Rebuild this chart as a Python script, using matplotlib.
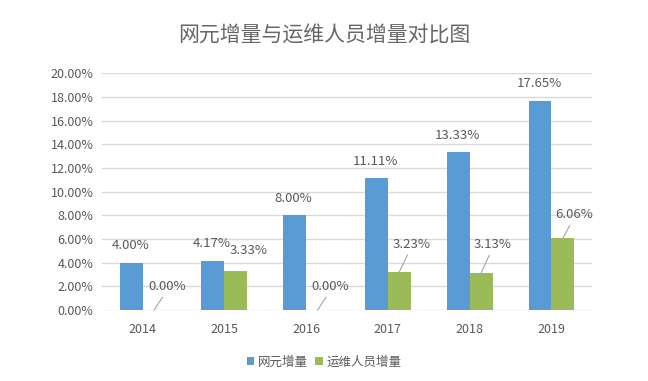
import matplotlib.pyplot as plt
import numpy as np

plt.rcParams['font.family'] = ['Noto Sans CJK SC', 'DejaVu Sans']

# Data
years = ['2014', '2015', '2016', '2017', '2018', '2019']
wangyuan = [4.00, 4.17, 8.00, 11.11, 13.33, 17.65]   # 网元增量 (%)
yunwei = [0.00, 3.33, 0.00, 3.23, 3.13, 6.06]        # 运维人员增量 (%)

title = '网元增量与运维人员增量对比图'
legend_labels = ['网元增量', '运维人员增量']

# label offsets (pixels) for green labels, and whether a leader line is drawn
green_offsets = [(13, 17), (13, 14), (13, 17), (12, 21), (12, 22), (11, 17)]
green_lines = [True, False, True, True, True, True]

blue = '#5B9BD5'
green = '#9BBB59'
text_col = '#595959'
grid_col = '#D9D9D9'

fig = plt.figure(figsize=(6.48, 3.81), dpi=100)
ax = fig.add_axes([0.157, 0.186, 0.757, 0.622])

x = np.arange(len(years))
w = 0.28
b1 = ax.bar(x - w / 2, wangyuan, w, color=blue, label=legend_labels[0], zorder=3)
b2 = ax.bar(x + w / 2, yunwei, w, color=green, label=legend_labels[1], zorder=3)

ax.set_ylim(0, 20)
ax.set_yticks(np.arange(0, 21, 2))
ax.set_yticklabels(['{:.2f}%'.format(v) for v in np.arange(0, 21, 2)])
ax.set_xlim(-0.5, len(years) - 0.5)
ax.set_xticks(x)
ax.set_xticklabels(years)

for s in ax.spines.values():
    s.set_visible(False)
ax.yaxis.grid(True, color=grid_col, linewidth=1, zorder=0)
ax.tick_params(axis='both', length=0, colors=text_col, labelsize=9)
ax.tick_params(axis='x', pad=9)
ax.tick_params(axis='y', pad=6)

for xi, v in zip(x, wangyuan):
    ax.annotate('{:.2f}%'.format(v), (xi - w / 2, v), xytext=(-1, 17),
                textcoords='offset pixels', ha='center', va='center',
                fontsize=9.5, color=text_col)

for xi, v, off, ln in zip(x, yunwei, green_offsets, green_lines):
    props = dict(arrowstyle='-', color='#A6A6A6', lw=0.8,
                 shrinkA=1, shrinkB=0, relpos=(0.45, 0.0)) if ln else None
    ax.annotate('{:.2f}%'.format(v), (xi + w / 2, v), xytext=off,
                textcoords='offset pixels', ha='center', va='bottom',
                fontsize=9.5, color=text_col, arrowprops=props)

fig.text(0.5, 1 - 36 / 381, title, ha='center', va='center', fontsize=15,
         color='#666666', fontweight='light')

leg = fig.legend(loc='center', bbox_to_anchor=(0.5, 0.05), ncol=2, frameon=False,
                 fontsize=9, handlelength=0.6, handleheight=0.6, handletextpad=0.3,
                 columnspacing=0.6)
for t in leg.get_texts():
    t.set_color(text_col)

fig.savefig('out.png', dpi=100)
